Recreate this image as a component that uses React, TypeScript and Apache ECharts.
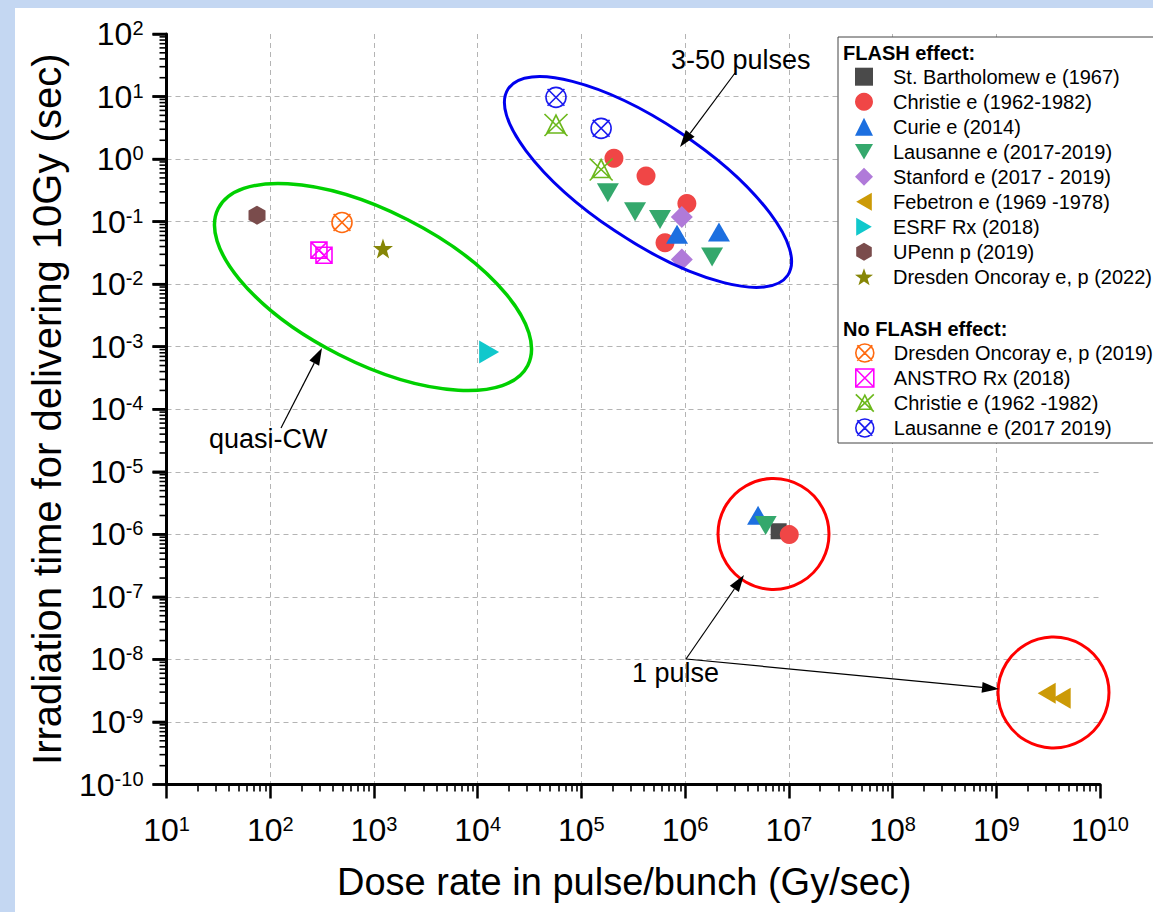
import React, { useEffect, useRef } from "react";
import * as echarts from "echarts";

// ---------- axis ticks (decade exponents) ----------
const X_EXPONENTS = [1, 2, 3, 4, 5, 6, 7, 8, 9, 10];
const Y_EXPONENTS = [-10, -9, -8, -7, -6, -5, -4, -3, -2, -1, 0, 1, 2];
const MINOR_MANTISSAS = [2, 3, 4, 5, 6, 7, 8, 9];

// ---------- data: [dose rate (Gy/s), irradiation time (s)] ----------
const stBartholomew = [[7.98e6, 1.12e-6]];
const christie = [[2.06e5, 1.03], [4.2e5, 0.535], [1.04e6, 0.195], [6.4e5, 0.0458], [1.01e7, 9.9e-7]];
const curie = [[8.36e5, 0.063], [2.12e6, 0.068], [5.05e6, 2.01e-6]];
const lausanne = [[1.8e5, 0.289], [3.29e5, 0.1435], [5.73e5, 0.108], [1.82e6, 0.0273], [5.98e6, 1.38e-6]];
const stanford = [[9.3e5, 0.119], [9.3e5, 0.0248]];
const febetron = [[3.06e9, 2.89e-9], [4.27e9, 2.4e-9]];
const esrf = [[1.29e4, 8.26e-4]];
const upenn = [[74.6, 0.127]];
const dresden2022 = [[1222, 0.0373]];
const dresden2019 = [[492, 0.097]];
const anstro = [[295, 0.035], [330, 0.029]];
const christieNo = [[5.69e4, 3.5], [1.55e5, 0.68]];
const lausanneNo = [[5.69e4, 9.7], [1.55e5, 3.1]];

// ---------- symbols ----------
const TRI_DOWN = "path://M0,0L2,0L1,1.73Z";
const TRI_LEFT = "path://M0,1L1.73,0L1.73,2Z";
const TRI_RIGHT = "path://M0,0L1.73,1L0,2Z";
const HEXAGON = "path://M0.866,0L1.732,0.5L1.732,1.5L0.866,2L0,1.5L0,0.5Z";
const starPath = (() => {
  const pts: string[] = [];
  for (let i = 0; i < 10; i++) {
    const a = (-90 + i * 36) * Math.PI / 180;
    const r = i % 2 === 0 ? 1 : 0.4;
    pts.push(`${(1 + r * Math.cos(a)).toFixed(4)},${(1 + r * Math.sin(a)).toFixed(4)}`);
  }
  return "path://M" + pts.join("L") + "Z";
})();
const CROSS_CIRCLE = "path://M0.15,1.1A0.95,0.95,0,1,1,2.05,1.1A0.95,0.95,0,1,1,0.15,1.1Z M0.3,0.3L1.9,1.9M1.9,0.3L0.3,1.9";
const CROSS_SQUARE = "path://M0,0L2,0L2,2L0,2Z M0,0L2,2M2,0L0,2";
const CROSS_TRIANGLE = "path://M1.15,0.1L2.05,1.9L0.25,1.9Z M0,0L2.3,2.2M2.3,0L0,2.2";

const FONT = "'Liberation Sans', Arial, Helvetica, sans-serif";

const FLASH = [
  { name: "St. Bartholomew e (1967)", data: stBartholomew, symbol: "rect", size: [16, 16], color: "#4a4a4a" },
  { name: "Christie e (1962-1982)", data: christie, symbol: "circle", size: 19, color: "#f04646" },
  { name: "Curie e (2014)", data: curie, symbol: "triangle", size: [22, 19], color: "#1c6fe0" },
  { name: "Lausanne e (2017-2019)", data: lausanne, symbol: TRI_DOWN, size: [22, 19], color: "#34a86c" },
  { name: "Stanford e (2017 - 2019)", data: stanford, symbol: "diamond", size: [22, 22], color: "#b07ad9" },
  { name: "Febetron e (1969 -1978)", data: febetron, symbol: TRI_LEFT, size: [18, 21], color: "#cc9a06" },
  { name: "ESRF Rx (2018)", data: esrf, symbol: TRI_RIGHT, size: [20, 23], color: "#10c8cc" },
  { name: "UPenn p (2019)", data: upenn, symbol: HEXAGON, size: [17, 19], color: "#7a4c4c" },
  { name: "Dresden Oncoray e, p (2022)", data: dresden2022, symbol: starPath, size: 20, color: "#868606" },
];
const NO_FLASH = [
  { name: "Dresden Oncoray e, p (2019)", data: dresden2019, symbol: CROSS_CIRCLE, size: 20, color: "#ff6a10" },
  { name: "ANSTRO Rx (2018)", data: anstro, symbol: CROSS_SQUARE, size: 16, color: "#ff00ff" },
  { name: "Christie e (1962 -1982)", data: christieNo, symbol: CROSS_TRIANGLE, size: [23, 22], color: "#6cb81c" },
  { name: "Lausanne e (2017 2019)", data: lausanneNo, symbol: CROSS_CIRCLE, size: 20, color: "#1a1af0" },
];

function arrow(x1: number, y1: number, x2: number, y2: number) {
  const dx = x2 - x1, dy = y2 - y1;
  const len = Math.hypot(dx, dy);
  const ux = dx / len, uy = dy / len;
  const L = 17, W = 5.5;
  const bx = x2 - ux * L, by = y2 - uy * L;
  return [
    { type: "line", z: 10, shape: { x1, y1, x2: bx, y2: by }, style: { stroke: "#000", lineWidth: 1.2 } },
    {
      type: "polygon", z: 10,
      shape: { points: [[x2, y2], [bx - uy * W, by + ux * W], [bx + uy * W, by - ux * W]] },
      style: { fill: "#000" },
    },
  ];
}

// axes are decades (log10 of the value); labels show 10^exponent
const labelFmt = (v: number) => `{b|10}{s|${Math.round(v)}}`;
const labelRich = {
  b: { fontSize: 32, fontFamily: FONT, color: "#000", lineHeight: 32 },
  s: { fontSize: 20, fontFamily: FONT, color: "#000", lineHeight: 20, verticalAlign: "top" },
};

const toLog = (arr: number[][]) => arr.map(([x, y]) => [Math.log10(x), Math.log10(y)]);

const GRID = { left: 166.5, right: 53, top: 34, bottom: 127.5 };
const CHART_H = 912;

export default function App() {
  const ref = useRef<HTMLDivElement>(null);
  useEffect(() => {
    if (!ref.current) return;
    const chart = echarts.init(ref.current, null, { renderer: "svg" });
    const xMin = X_EXPONENTS[0];
    const xMax = X_EXPONENTS[X_EXPONENTS.length - 1];
    const yMin = Y_EXPONENTS[0];
    const yMax = Y_EXPONENTS[Y_EXPONENTS.length - 1];
    const minorX: number[] = [];
    X_EXPONENTS.slice(0, -1).forEach((e) => MINOR_MANTISSAS.forEach((m) => minorX.push(e + Math.log10(m))));
    const minorY: number[] = [];
    Y_EXPONENTS.slice(0, -1).forEach((e) => MINOR_MANTISSAS.forEach((m) => minorY.push(e + Math.log10(m))));

    const splitLine = { show: true, showMaxLine: false, lineStyle: { color: "#b4b4b4", width: 1, type: [5, 4] } };

    const mkSeries = (s: any, outline: boolean) => ({
      type: "scatter",
      name: s.name,
      data: toLog(s.data),
      symbol: s.symbol,
      symbolSize: s.size,
      symbolKeepAspect: false,
      xAxisIndex: 0,
      yAxisIndex: 0,
      emphasis: { disabled: true },
      itemStyle: outline
        ? { color: "transparent", borderColor: s.color, borderWidth: 1.6, opacity: 1 }
        : { color: s.color, opacity: 1, borderWidth: 0 },
    });

    const legendCommon = {
      orient: "vertical",
      left: 855,
      padding: 0,
      itemWidth: 18,
      itemHeight: 18,
      itemGap: 5,
      selectedMode: false,
      z: 6,
      textStyle: { fontSize: 20, fontFamily: FONT, color: "#000", lineHeight: 20, padding: [0, 0, 0, 15] },
    };

    const bg = "#c4d7f2";

    // y-axis tick comb (major + log-spaced minor) on the grid's left edge
    const plotH = CHART_H - GRID.top - GRID.bottom;
    const yToPx = (v: number) => GRID.top + ((yMax - v) / (yMax - yMin)) * plotH;
    const yTickMarks = [
      ...Y_EXPONENTS.map((v) => ({ v, len: 14, w: 2.5 })),
      ...minorY.map((v) => ({ v, len: 7, w: 1.6 })),
    ].map((t) => ({
      type: "line", z: 30,
      shape: { x1: GRID.left - t.len, y1: yToPx(t.v), x2: GRID.left, y2: yToPx(t.v) },
      style: { stroke: "#000", lineWidth: t.w },
    }));

    const graphic: any[] = [
      { type: "rect", z: 0, shape: { x: 0, y: 0, width: 15, height: 912 }, style: { fill: bg } },
      { type: "rect", z: 0, shape: { x: 0, y: 0, width: 1153, height: 8 }, style: { fill: bg } },
      // legend box
      { type: "rect", z: 5, shape: { x: 838, y: 37, width: 330, height: 406 }, style: { fill: "#fff", stroke: "#444", lineWidth: 1 } },
      { type: "text", z: 7, x: 843, y: 53, style: { text: "FLASH effect:", fontSize: 20, fontWeight: "bold", fontFamily: FONT, fill: "#000", verticalAlign: "middle" } },
      { type: "text", z: 7, x: 843, y: 329, style: { text: "No FLASH effect:", fontSize: 20, fontWeight: "bold", fontFamily: FONT, fill: "#000", verticalAlign: "middle" } },
      // ellipses / circles
      { type: "ellipse", z: 9, x: 648, y: 182, rotation: -33.7 * Math.PI / 180, shape: { cx: 0, cy: 0, rx: 168, ry: 59 }, style: { fill: "transparent", stroke: "#0000ee", lineWidth: 3 } },
      { type: "ellipse", z: 9, x: 373, y: 287, rotation: -26.9 * Math.PI / 180, shape: { cx: 0, cy: 0, rx: 173.5, ry: 75.7 }, style: { fill: "transparent", stroke: "#00d000", lineWidth: 3.5 } },
      { type: "circle", z: 9, shape: { cx: 773.5, cy: 534, r: 55.5 }, style: { fill: "transparent", stroke: "#ff0000", lineWidth: 3 } },
      { type: "circle", z: 9, shape: { cx: 1053.5, cy: 692.5, r: 55.5 }, style: { fill: "transparent", stroke: "#ff0000", lineWidth: 3 } },
      // annotation texts
      { type: "text", z: 10, x: 671, y: 59.5, style: { text: "3-50 pulses", fontSize: 27, fontFamily: FONT, fill: "#000", verticalAlign: "middle" } },
      { type: "text", z: 10, x: 209, y: 439, style: { text: "quasi-CW", fontSize: 27, fontFamily: FONT, fill: "#000", verticalAlign: "middle" } },
      { type: "text", z: 10, x: 632, y: 672.5, style: { text: "1 pulse", fontSize: 27, fontFamily: FONT, fill: "#000", verticalAlign: "middle" } },
      ...arrow(735, 73, 680, 147),
      ...arrow(281, 428, 322, 348),
      ...arrow(686, 659, 744, 575),
      ...arrow(686, 659, 999, 689),
      ...yTickMarks,
    ];

    chart.setOption({
      animation: false,
      backgroundColor: "transparent",
      grid: { ...GRID, containLabel: false },
      xAxis: [
        {
          type: "value", min: xMin, max: xMax, interval: 1,
          position: "bottom",
          axisLine: { show: true, onZero: false, lineStyle: { color: "#000", width: 3 } },
          axisTick: { show: true, length: 14, lineStyle: { color: "#000", width: 2.5 } },
          axisLabel: { show: true, margin: 29, formatter: labelFmt, rich: labelRich },
          splitLine,
          name: "Dose rate in pulse/bunch (Gy/sec)",
          nameLocation: "middle",
          nameGap: 78,
          nameTextStyle: { fontSize: 38, fontFamily: FONT, color: "#000", padding: [0, 18, 0, 0] },
        },
        {
          type: "value", min: xMin, max: xMax, interval: 1, position: "bottom", offset: 0,
          axisLine: { show: false, onZero: false },
          axisTick: { show: true, length: 7, customValues: minorX, lineStyle: { color: "#000", width: 1.6 } },
          axisLabel: { show: false },
          splitLine: { show: false },
        },
      ],
      yAxis: [
        {
          type: "value", min: yMin, max: yMax, interval: 1,
          position: "left",
          axisLine: { show: true, onZero: false, lineStyle: { color: "#000", width: 3 } },
          axisTick: { show: true, length: 14, lineStyle: { color: "#000", width: 2.5 } },
          axisLabel: { show: true, margin: 23, formatter: labelFmt, rich: labelRich },
          splitLine,
          name: "Irradiation time for delivering 10Gy (sec)",
          nameLocation: "middle",
          nameRotate: 90,
          nameGap: 100,
          nameTextStyle: { fontSize: 40, fontFamily: FONT, color: "#000" },
        },
      ],
      legend: [
        { ...legendCommon, top: 66.7, data: FLASH.map((s) => ({ name: s.name })) },
        {
          ...legendCommon, top: 343,
          data: NO_FLASH.map((s) => ({ name: s.name, itemStyle: { borderWidth: 1.6, borderColor: s.color, color: "transparent" } })),
        },
      ],
      series: [
        ...FLASH.map((s) => mkSeries(s, false)),
        ...NO_FLASH.map((s) => mkSeries(s, true)),
      ],
      graphic,
    });

    return () => chart.dispose();
  }, []);
  return (
    <div
      ref={ref}
      style={{ position: "absolute", left: 0, top: 0, width: 1153, height: 912, background: "#fff" }}
    />
  );
}
